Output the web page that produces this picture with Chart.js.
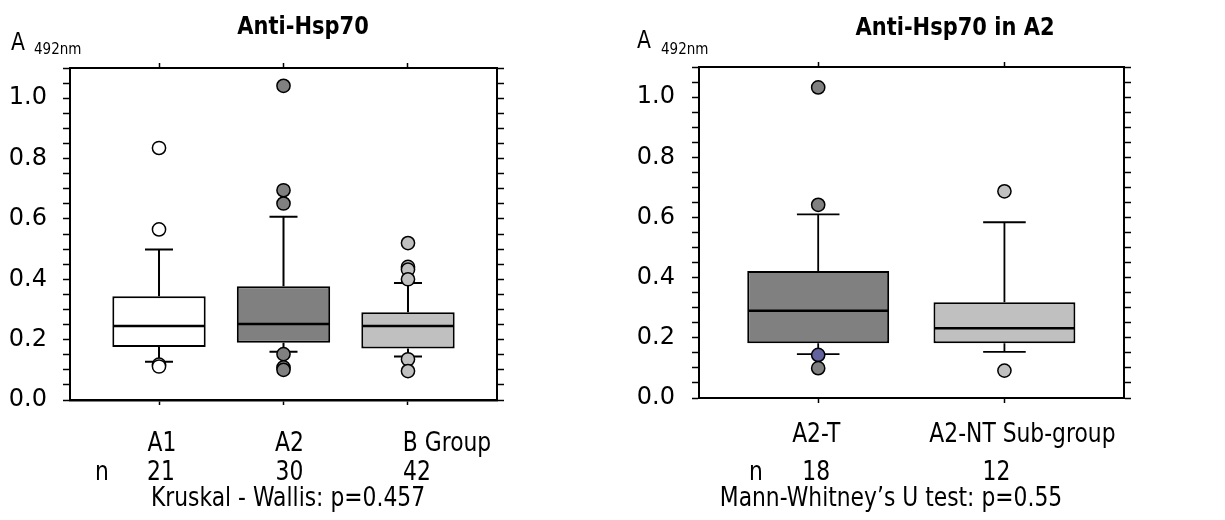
<!DOCTYPE html>
<html>
<head>
<meta charset="utf-8">
<script src="https://cdn.jsdelivr.net/npm/chart.js@4.4.1/dist/chart.umd.min.js"></script>
<style>
  html, body { margin: 0; padding: 0; background: #fff; }
  .panel { position: absolute; top: 0; height: 520px; }
  #left { left: 0; width: 612px; }
  #right { left: 612px; width: 613px; }
</style>
</head>
<body>
<div class="panel" id="left"><canvas id="chartL"></canvas></div>
<div class="panel" id="right"><canvas id="chartR"></canvas></div>
<script>
// left panel: A1 / A2 / B group
const groupsL = ['A1', 'A2', 'B Group'];
const countsL = [21, 30, 42];
const lowL = [0.127, 0.160, 0.144];
const q1L = [0.176, 0.190, 0.171];
const medL = [0.245, 0.252, 0.245];
const q3L = [0.344, 0.377, 0.291];
const highL = [0.499, 0.607, 0.388];
const outA1 = [0.835, 0.565, 0.117, 0.111];
const outA2 = [1.041, 0.695, 0.651, 0.152, 0.108, 0.100];
const outB = [0.520, 0.441, 0.432, 0.400, 0.135, 0.096];

// right panel: A2 sub-groups
const groupsR = ['A2-T', 'A2-NT Sub-group'];
const countsR = [18, 12];
const lowR = [0.146, 0.153];
const q1R = [0.182, 0.182];
const medR = [0.290, 0.232];
const q3R = [0.422, 0.318];
const highR = [0.610, 0.584];
const outA2T = [1.032, 0.642, 0.099];
const outA2Tmarked = [0.143];
const outA2NT = [0.687, 0.091];

// labelled y ticks (minor ticks every 0.05)
const yLabels = ['0.0', '0.2', '0.4', '0.6', '0.8', '1.0'];

const FONT = "'DejaVu Sans', sans-serif";
const WHITE = '#ffffff', DARK = '#808080', LIGHT = '#c0c0c0', BLUE = '#62639e';

function labelFor(v) {
  const k = v / 0.2;
  if (Math.abs(k - Math.round(k)) > 1e-6) return '';
  return yLabels[Math.round(k)] || '';
}

function points(idx, vals) {
  return vals.map(v => ({ x: idx, y: v }));
}

function outlierSet(data, color) {
  return {
    type: 'scatter', data: data, order: 0,
    pointRadius: 6.6, pointHoverRadius: 6.6,
    pointBackgroundColor: color, pointBorderColor: '#000', pointBorderWidth: 1.5
  };
}

// whiskers, caps and medians, drawn right after the boxes
function whiskerPlugin(low, q1, med, q3, high, lw) {
  return {
    id: 'whiskers',
    afterDatasetDraw(chart, args) {
      if (args.meta.type !== 'bar') return;
      const ctx = chart.ctx, y = chart.scales.y;
      ctx.save();
      ctx.strokeStyle = '#000';
      args.meta.data.forEach((bar, i) => {
        const w = bar.width, cx = bar.x, cap = w * 0.3;
        const yHi = y.getPixelForValue(high[i]), yLo = y.getPixelForValue(low[i]);
        ctx.lineWidth = lw;
        ctx.beginPath();
        ctx.moveTo(cx, y.getPixelForValue(q3[i])); ctx.lineTo(cx, yHi);
        ctx.moveTo(cx - cap / 2, yHi); ctx.lineTo(cx + cap / 2, yHi);
        ctx.moveTo(cx, y.getPixelForValue(q1[i])); ctx.lineTo(cx, yLo);
        ctx.moveTo(cx - cap / 2, yLo); ctx.lineTo(cx + cap / 2, yLo);
        ctx.stroke();
        const ym = y.getPixelForValue(med[i]);
        ctx.lineWidth = 2.5;
        ctx.beginPath();
        ctx.moveTo(cx - w / 2 + 1, ym); ctx.lineTo(cx + w / 2 - 1, ym);
        ctx.stroke();
      });
      ctx.restore();
    }
  };
}

// titles, axis unit, group names, n row and test result (slightly condensed)
function textPlugin(items) {
  return {
    id: 'texts',
    afterDraw(chart) {
      const ctx = chart.ctx, x = chart.scales.x;
      items.forEach(t => {
        ctx.save();
        ctx.fillStyle = '#000';
        ctx.textBaseline = 'alphabetic';
        ctx.font = (t.bold ? 'bold ' : '') + t.size + 'px ' + FONT;
        ctx.textAlign = t.align || 'center';
        const px = t.at !== undefined ? x.getPixelForValue(t.at) + (t.dx || 0) : t.x;
        ctx.translate(px, t.y);
        ctx.scale(t.sx || 1, 1);
        ctx.fillText(t.text, 0, 0);
        ctx.restore();
      });
    }
  };
}

function yAxis(pos, width, pad, showLabels) {
  return {
    type: 'linear', position: pos, min: 0, max: 1.1,
    ticks: {
      stepSize: 0.05, autoSkip: false, padding: pad, color: '#000',
      font: { family: FONT, size: 24 },
      callback: v => showLabels ? labelFor(v) : ''
    },
    grid: { drawOnChartArea: false, drawTicks: true, tickLength: 7, tickColor: '#000', tickWidth: 1.5 },
    border: { display: true, color: '#000', width: 2 },
    afterFit: s => { s.width = width; }
  };
}

function xAxis(pos, min, max, n, height, bw) {
  return {
    type: 'linear', position: pos, min: min, max: max, offset: false,
    afterBuildTicks: s => { s.ticks = Array.from({ length: n }, (_, i) => ({ value: i + 1 })); },
    ticks: { callback: () => '', autoSkip: false },
    grid: { drawOnChartArea: false, drawTicks: true, tickLength: 5, tickColor: '#000', tickWidth: 1.5, offset: false },
    border: { display: true, color: '#000', width: bw },
    afterFit: s => { s.height = height; }
  };
}

function boxSet(q1, q3, colors, pct) {
  return {
    type: 'bar', order: 1,
    data: q1.map((v, i) => ({ x: i + 1, y: [v, q3[i]] })),
    backgroundColor: colors, borderColor: '#000', borderWidth: 2, borderSkipped: false,
    barPercentage: pct, categoryPercentage: 1
  };
}

const common = {
  responsive: true, maintainAspectRatio: false, animation: false,
  layout: { padding: 0 },
  plugins: { legend: { display: false }, tooltip: { enabled: false } }
};

const SX = 0.84;

new Chart(document.getElementById('chartL'), {
  type: 'bar',
  data: {
    datasets: [
      boxSet(q1L, q3L, [WHITE, DARK, LIGHT], 0.75),
      outlierSet(points(1, outA1), WHITE),
      outlierSet(points(2, outA2), DARK),
      outlierSet(points(3, outB), LIGHT)
    ]
  },
  options: Object.assign({}, common, {
    scales: {
      x: xAxis('bottom', 0.285, 3.715, groupsL.length, 120, 2.5),
      xTop: xAxis('top', 0.285, 3.715, groupsL.length, 68, 2),
      y: yAxis('left', 70, 16, true),
      yRight: yAxis('right', 115, 0, false)
    }
  }),
  plugins: [
    whiskerPlugin(lowL, q1L, medL, q3L, highL, 2),
    textPlugin([
      { text: 'Anti-Hsp70', x: 303, y: 34, size: 25, bold: true, sx: 0.84 },
      { text: 'A', x: 11, y: 50, size: 24, align: 'left', sx: 0.85 },
      { text: '492nm', x: 34, y: 54, size: 15, align: 'left', sx: 0.9 },
      ...groupsL.map((g, i) => ({ text: g, at: i + 1, dx: [3, 6, 39][i], y: 451, size: 26, sx: SX })),
      { text: 'n', x: 102, y: 480, size: 26, sx: SX },
      ...countsL.map((c, i) => ({ text: String(c), at: i + 1, dx: [2, 6, 9][i], y: 480, size: 26, sx: SX })),
      { text: 'Kruskal - Wallis: p=0.457', x: 288, y: 506, size: 26, sx: SX }
    ])
  ]
});

new Chart(document.getElementById('chartR'), {
  type: 'bar',
  data: {
    datasets: [
      boxSet(q1R, q3R, [DARK, LIGHT], 0.762),
      outlierSet(points(1, outA2T), DARK),
      outlierSet(points(1, outA2Tmarked), BLUE),
      outlierSet(points(2, outA2NT), LIGHT)
    ]
  },
  options: Object.assign({}, common, {
    scales: {
      x: xAxis('bottom', 0.36, 2.642, groupsR.length, 122, 2),
      xTop: xAxis('top', 0.36, 2.642, groupsR.length, 67, 2),
      y: yAxis('left', 87, 17, true),
      yRight: yAxis('right', 101, 0, false)
    }
  }),
  plugins: [
    whiskerPlugin(lowR, q1R, medR, q3R, highR, 1.8),
    textPlugin([
      { text: 'Anti-Hsp70 in A2', x: 343, y: 35, size: 25, bold: true, sx: 0.84 },
      { text: 'A', x: 25, y: 48, size: 24, align: 'left', sx: 0.85 },
      { text: '492nm', x: 49, y: 54, size: 15, align: 'left', sx: 0.9 },
      ...groupsR.map((g, i) => ({ text: g, at: i + 1, dx: [-2, 18][i], y: 442, size: 26, sx: SX })),
      { text: 'n', x: 144, y: 480, size: 26, sx: SX },
      ...countsR.map((c, i) => ({ text: String(c), at: i + 1, dx: [-2, -8][i], y: 480, size: 26, sx: SX })),
      { text: 'Mann-Whitney\u2019s U test: p=0.55', x: 279, y: 506, size: 26, sx: SX }
    ])
  ]
});
</script>
</body>
</html>
